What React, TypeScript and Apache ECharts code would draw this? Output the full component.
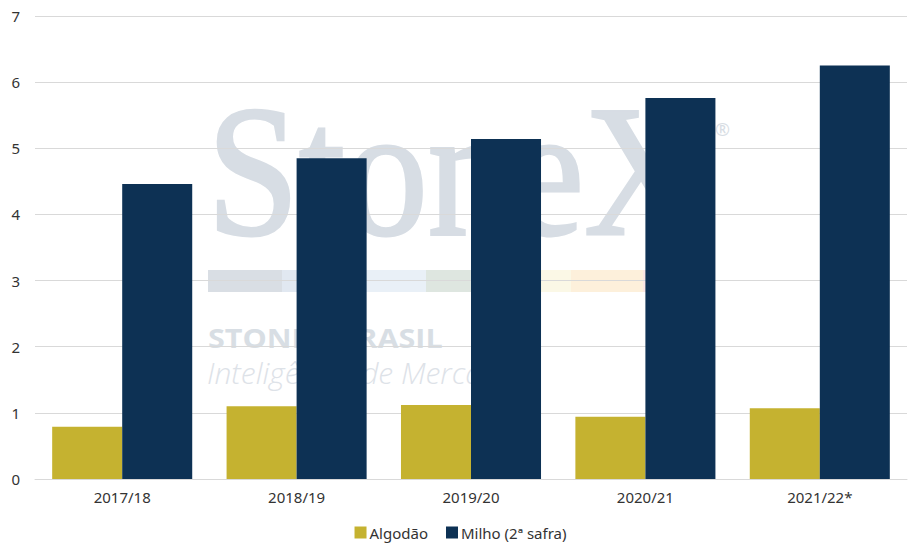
import React, { useEffect, useRef } from "react";
import * as echarts from "echarts";

const categories = ["2017/18", "2018/19", "2019/20", "2020/21", "2021/22*"];
const algodao = [0.79, 1.1, 1.12, 0.94, 1.07];
const milho = [4.46, 4.85, 5.14, 5.76, 6.25];
const seriesNames = ["Algodão", "Milho (2ª safra)"];
const stripeColors = ["#D9DEE4", "#E1E8F1", "#E9F0F7", "#DEE6E0", "#FBF8E6", "#FDF0DB", "#FBE6E4"];

export default function App() {
  const ref = useRef<HTMLDivElement>(null);
  useEffect(() => {
    if (!ref.current) return;
    const chart = echarts.init(ref.current, null, { renderer: "svg" });
    const stripeX = [208, 282, 340, 426, 540, 571, 643, 715];
    const stripe = stripeColors.map((c, i) => ({
      type: "rect",
      z: -1,
      shape: { x: stripeX[i], y: 270, width: stripeX[i + 1] - stripeX[i], height: 22 },
      style: { fill: c },
      silent: true,
    }));
    chart.setOption({
      animation: false,
      textStyle: { fontFamily: "'Noto Sans', sans-serif" },
      grid: { left: 35, right: 14, top: 16, bottom: 76, containLabel: false },
      graphic: [
        {
          type: "text",
          z: -1,
          x: 207,
          y: 171,
          scaleX: 0.89,
          silent: true,
          style: {
            text: "StoneX",
            font: "186px 'Liberation Serif', serif",
            fill: "#D7DDE4",
            stroke: "#D7DDE4",
            lineWidth: 3,
            verticalAlign: "middle",
          },
        },
        {
          type: "text",
          z: -1,
          x: 715,
          y: 129,
          silent: true,
          style: { text: "®", font: "18px 'Noto Sans', sans-serif", fill: "#D7DDE4", verticalAlign: "middle" },
        },
        ...stripe,
        {
          type: "text",
          z: -1,
          x: 208,
          y: 337,
          scaleX: 1.13,
          silent: true,
          style: {
            text: "STONEX BRASIL",
            font: "bold 27px 'Open Sans', sans-serif",
            fill: "#D8DEE4",
            verticalAlign: "middle",
          },
        },
        {
          type: "text",
          z: -1,
          x: 207,
          y: 372,
          silent: true,
          style: {
            text: "Inteligência de Mercado",
            font: "italic 300 30px 'Open Sans', sans-serif",
            fill: "#DDE2E8",
            verticalAlign: "middle",
          },
        },
      ],
      legend: {
        bottom: 10,
        left: "center",
        itemWidth: 12,
        itemHeight: 12,
        itemGap: 18,
        icon: "rect",
        textStyle: { fontSize: 15, color: "#333", padding: [0, 0, 0, -2] },
        data: seriesNames,
      },
      xAxis: {
        type: "category",
        data: categories,
        axisTick: { show: false },
        axisLine: { lineStyle: { color: "#D9D9D9", width: 1 } },
        axisLabel: { fontSize: 15, color: "#333", margin: 10 },
      },
      yAxis: {
        type: "value",
        min: 0,
        max: 7,
        interval: 1,
        axisLine: { show: false },
        axisTick: { show: false },
        splitLine: { lineStyle: { color: "#D9D9D9", width: 1 } },
        axisLabel: { fontSize: 15, color: "#333", margin: 15 },
      },
      series: [
        {
          name: seriesNames[0],
          type: "bar",
          data: algodao,
          barGap: "0%",
          barCategoryGap: "19.7%",
          itemStyle: { color: "#C5B230" },
        },
        {
          name: seriesNames[1],
          type: "bar",
          data: milho,
          itemStyle: { color: "#0D3154" },
        },
      ],
    });
    return () => chart.dispose();
  }, []);
  return <div ref={ref} style={{ width: 921, height: 555, position: "absolute", left: 0, top: 0 }} />;
}
